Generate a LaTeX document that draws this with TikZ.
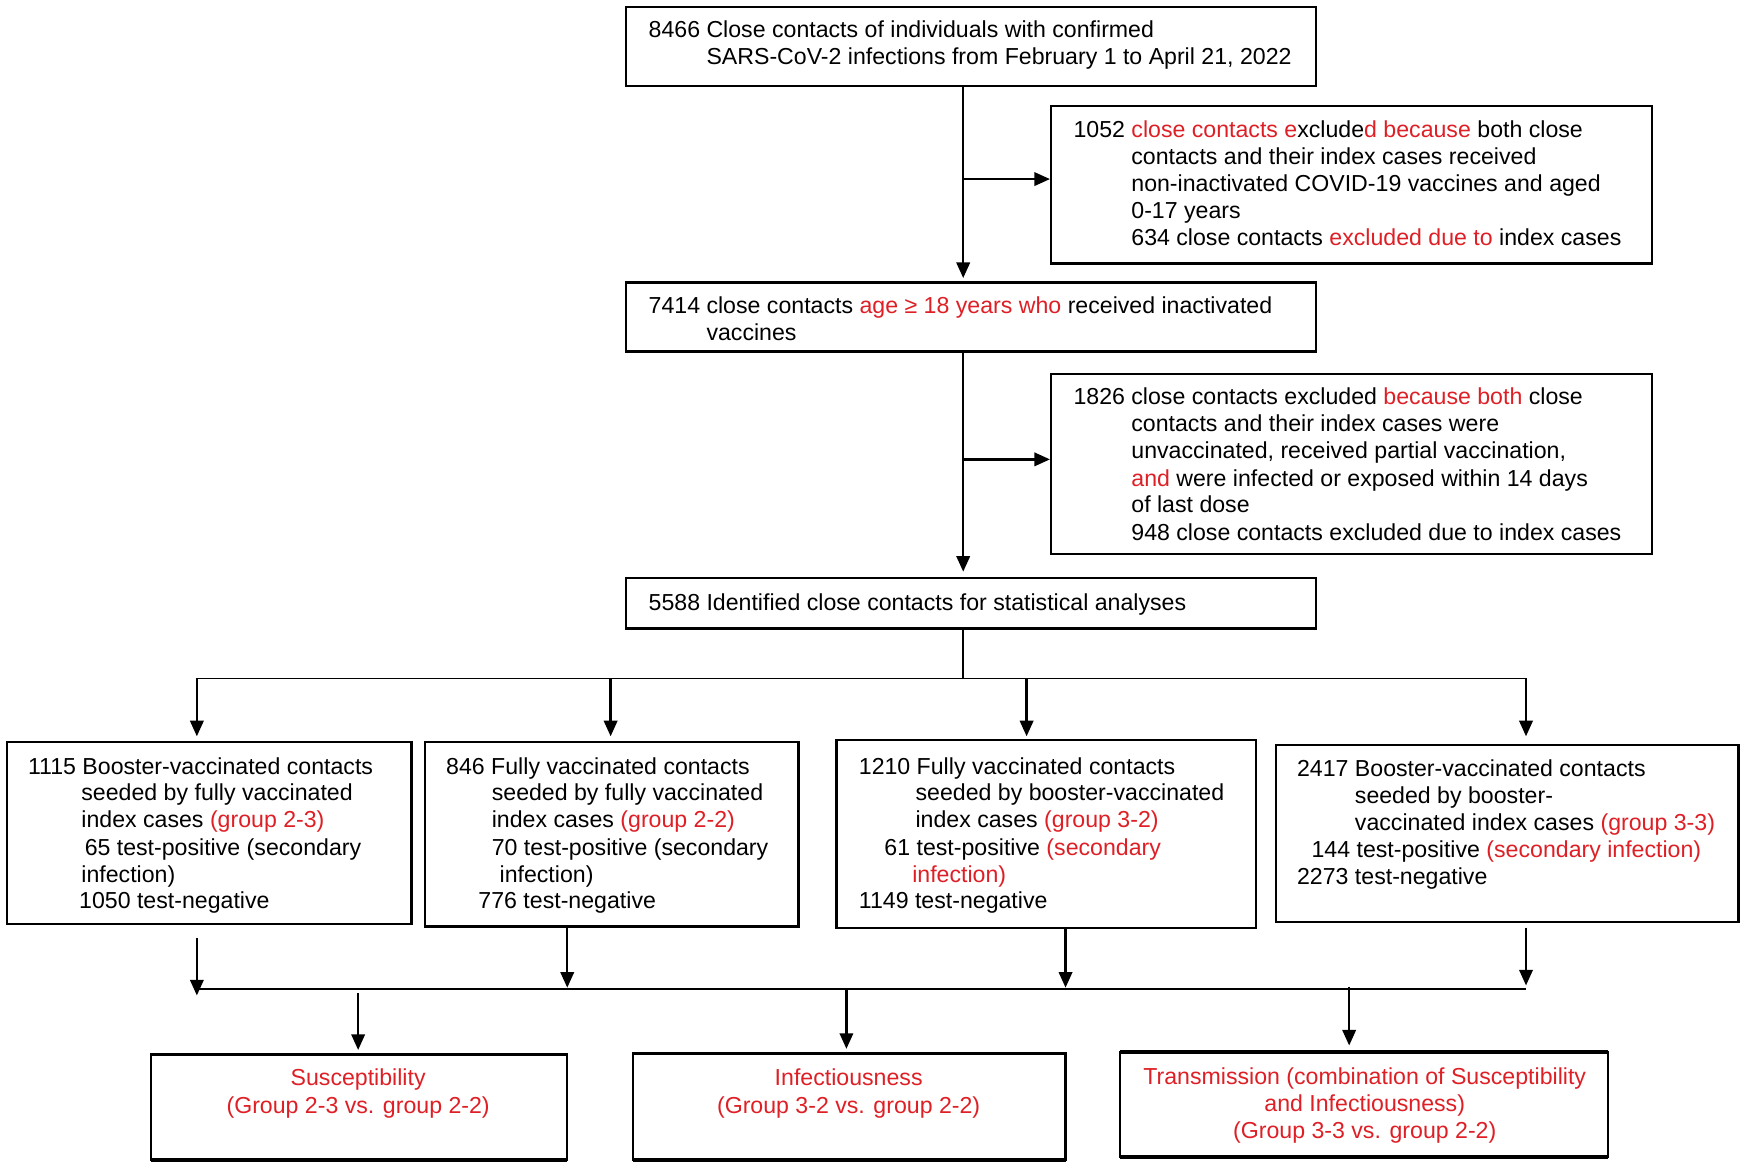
\documentclass[tikz,border=0pt]{standalone}
\usepackage{fontspec}
\setmainfont{Liberation Sans}
\usetikzlibrary{arrows.meta,calc}
\definecolor{hired}{RGB}{222,32,38}
\newcommand\R[1]{\textcolor{hired}{#1}}
\newcounter{lnc}
\newcommand\Ln[3]{\stepcounter{lnc}\node[txt] (L\thelnc) at (#1,#2) {#3};}
\newcommand\Cn[3]{\stepcounter{lnc}\node[ctxt] (L\thelnc) at (#1,#2) {\R{#3}};}
\newcommand\Bx[5]{\node[box, minimum width={(#4-#2)*1pt}, minimum height={(#5-#3)*1pt}] (#1) at ({(#2+#4)/2},{(#3+#5)/2}) {};}
\tikzset{
  box/.style={draw, line width=2pt, inner sep=0pt, outer sep=0pt},
  txt/.style={anchor=base west, inner sep=0pt, font=\fontsize{20.8}{24.3}\selectfont},
  ctxt/.style={txt, anchor=base},
  arr/.style={line width=2.2pt, -{Triangle[length=14pt,width=12pt]}},
  ln/.style={line width=1.6pt},
}
\begin{document}
\begin{tikzpicture}[x=1pt,y=-1pt]
\fill[white] (0,0) rectangle (1568,1050);
\useasboundingbox (0,0) rectangle (1568,1050);
% boxes
\Bx{top}{563}{6}{1183}{77}
\Bx{exa}{945}{95}{1485}{237}
\Bx{mid}{563}{254}{1183}{316}
\Bx{exb}{945}{336}{1485}{498}
\Bx{ana}{563}{520}{1183}{565}
\Bx{ga}{6}{667}{370}{831}
\Bx{gb}{382}{667}{718}{833}
\Bx{gc}{752}{665}{1129}{834}
\Bx{gd}{1147}{670}{1563}{829}
\Bx{ba}{136}{948}{510}{1043}
\Bx{bb}{569}{947}{958}{1043}
\Bx{bc}{1007}{946}{1446}{1040}
\foreach \b in {ba,bb,bc}{
  \draw[line width=3.2pt] (\b.north west) -- (\b.north east);
  \draw[line width=3.2pt] (\b.south west) -- (\b.south east);
}
% texts
\Ln{583}{34}{8466 Close contacts of individuals with confirmed}
\Ln{635}{58}{SARS-CoV-2 infections from February 1 to April 21, 2022}
\Ln{965}{124}{1052 \R{close contacts e}xclude\R{d because} both close}
\Ln{1017}{148}{contacts and their index cases received}
\Ln{1017}{172}{non-inactivated COVID-19 vaccines and aged}
\Ln{1017}{196}{0-17 years}
\Ln{1017}{221}{634 close contacts \R{excluded due to} index cases}
\Ln{583}{282}{7414 close contacts \R{age ≥ 18 years who} received inactivated}
\Ln{635}{306}{vaccines}
\Ln{965}{364}{1826 close contacts excluded \R{because both} close}
\Ln{1017}{388}{contacts and their index cases were}
\Ln{1017}{412}{unvaccinated, received partial vaccination,}
\Ln{1017}{437}{\R{and} were infected or exposed within 14 days}
\Ln{1017}{461}{of last dose}
\Ln{1017}{486}{948 close contacts excluded due to index cases}
\Ln{583}{549}{5588 Identified close contacts for statistical analyses}
% group 1
\Ln{25}{696}{1115 Booster-vaccinated contacts}
\Ln{73}{720}{seeded by fully vaccinated}
\Ln{73}{744}{index cases \R{(group 2-3)}}
\Ln{76}{769}{65 test-positive (secondary}
\Ln{73}{793}{infection)}
\Ln{71}{817}{1050 test-negative}
% group 2
\Ln{401}{696}{846 Fully vaccinated contacts}
\Ln{442}{720}{seeded by fully vaccinated}
\Ln{442}{744}{index cases \R{(group 2-2)}}
\Ln{442}{769}{70 test-positive (secondary}
\Ln{449}{793}{infection)}
\Ln{430}{817}{776 test-negative}
% group 3
\Ln{772}{696}{1210 Fully vaccinated contacts}
\Ln{823}{720}{seeded by booster-vaccinated}
\Ln{823}{744}{index cases \R{(group 3-2)}}
\Ln{795}{769}{61 test-positive \R{(secondary}}
\Ln{820}{793}{\R{infection)}}
\Ln{772}{817}{1149 test-negative}
% group 4
\Ln{1166}{698}{2417 Booster-vaccinated contacts}
\Ln{1218}{722}{seeded by booster-}
\Ln{1218}{747}{vaccinated index cases \R{(group 3-3)}}
\Ln{1179}{771}{144 test-positive \R{(secondary infection)}}
\Ln{1166}{795}{2273 test-negative}
% bottom
\Cn{322}{976}{Susceptibility}
\Cn{322}{1001}{(Group 2-3 vs. group 2-2)}
\Cn{763}{976}{Infectiousness}
\Cn{763}{1001}{(Group 3-2 vs. group 2-2)}
\Cn{1227}{975}{Transmission (combination of Susceptibility}
\Cn{1227}{999}{and Infectiousness)}
\Cn{1227}{1024}{(Group 3-3 vs. group 2-2)}
% connectors
\coordinate (sp) at (866,0);
\coordinate (ja) at (866,161);
\coordinate (jb) at (866,413);
\draw[arr, shorten >=4pt] (top.south -| sp) -- (mid.north -| sp);
\draw[arr, shorten >=1pt] (ja) -- (exa.west |- ja);
\draw[arr, shorten >=6pt] (mid.south -| sp) -- (ana.north -| sp);
\draw[arr, shorten >=1pt] (jb) -- (exb.west |- jb);
\coordinate (ha) at (866,610);
\coordinate (hl) at (177,610);
\coordinate (hr) at (1372,610);
\draw[ln] (ana.south -| sp) -- (ha);
\draw[ln] (hl) -- (hr);
\coordinate (xb) at (549,610);
\coordinate (xc) at (923,610);
\draw[arr, shorten >=5pt] (hl) -- (ga.north -| hl);
\draw[arr, shorten >=5pt] (xb) -- (gb.north -| xb);
\draw[arr, shorten >=3pt] (xc) -- (gc.north -| xc);
\draw[arr, shorten >=8pt] (hr) -- (gd.north -| hr);
% lower collection
\coordinate (la) at (177,889);
\coordinate (lr) at (1372,889);
\draw[ln] (la) -- (lr);
\coordinate (ea) at (177,895);
\coordinate (eb) at (510,888);
\coordinate (ec) at (958,888);
\coordinate (ed) at (1372,886);
\draw[arr, shorten <=12pt] (ga.south -| ea) -- (ea);
\draw[arr] (gb.south -| eb) -- (eb);
\draw[arr] (gc.south -| ec) -- (ec);
\draw[arr, shorten <=5pt] (gd.south -| ed) -- (ed);
\coordinate (da) at (322,893);
\coordinate (db) at (761,890);
\coordinate (dc) at (1213,887);
\draw[arr, shorten >=4pt] (da) -- (ba.north -| da);
\draw[arr, shorten >=4pt] (db) -- (bb.north -| db);
\draw[arr, shorten >=6pt] (dc) -- (bc.north -| dc);
\end{tikzpicture}
\end{document}
